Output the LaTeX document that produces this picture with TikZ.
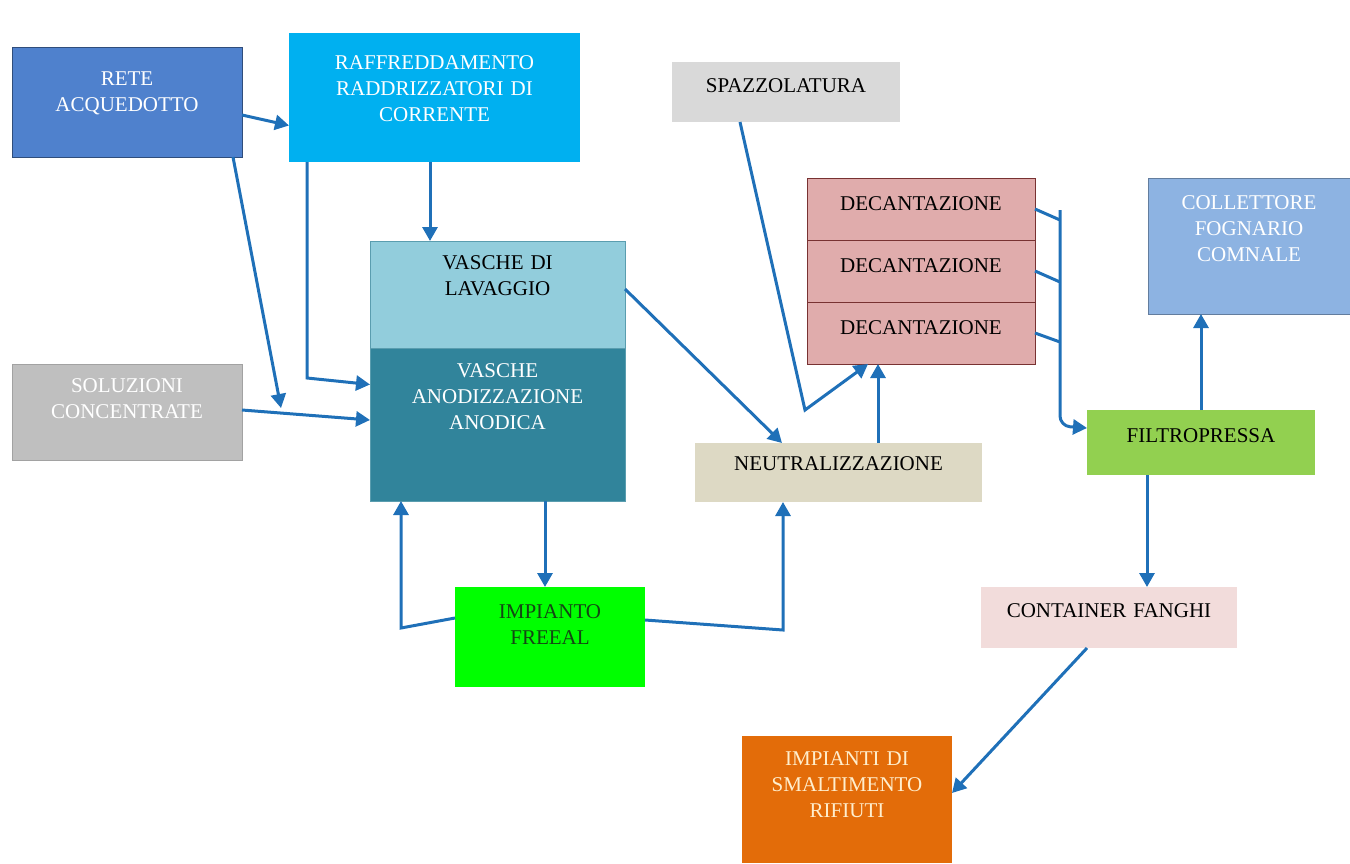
\documentclass[tikz,border=0pt]{standalone}
\usepackage{fontspec}
\setmainfont{Liberation Serif}
\usetikzlibrary{arrows.meta, positioning}

\definecolor{flowblue}{RGB}{31,112,184}
\definecolor{retefill}{RGB}{79,129,205}
\definecolor{raffill}{RGB}{0,176,240}
\definecolor{spazfill}{RGB}{217,217,217}
\definecolor{lavfill}{RGB}{146,205,220}
\definecolor{anodfill}{RGB}{49,132,155}
\definecolor{solfill}{RGB}{191,191,191}
\definecolor{decfill}{RGB}{224,172,172}
\definecolor{decline}{RGB}{120,50,50}
\definecolor{collfill}{RGB}{141,179,226}
\definecolor{neutfill}{RGB}{221,217,196}
\definecolor{filtfill}{RGB}{146,208,80}
\definecolor{freefill}{RGB}{0,255,0}
\definecolor{contfill}{RGB}{242,220,219}
\definecolor{smalfill}{RGB}{227,108,9}

\begin{document}
\begin{tikzpicture}[x=0.5pt, y=-0.5pt, >={Triangle[length=7pt,width=7.5pt]},
    box/.style 2 args={rectangle, anchor=north west, inner sep=0pt, outer sep=0pt, align=center,
        text width=#1, text height=15pt, text depth=#2, font=\fontsize{10.5}{13}\selectfont},
    flow/.style={->, draw=flowblue, line width=1.5pt},
    pipe/.style={draw=flowblue, line width=1.5pt}]

    \useasboundingbox (0,0) rectangle (1350,863);

    \node (rete) [box={115pt}{36pt}, text height=19pt, fill=retefill, draw=retefill!60!black, text=white] at (12,47) {RETE\\ACQUEDOTTO};
    \node (raff) [box={145.5pt}{46.5pt}, text height=18pt, fill=raffill, text=white] at (289,33) {RAFFREDDAMENTO\\RADDRIZZATORI DI\\CORRENTE};
    \node (spaz) [box={114pt}{15pt}, fill=spazfill] at (672,62) {SPAZZOLATURA};
    \node (lav) [box={127.5pt}{39.5pt}, text height=14pt, fill=lavfill, draw=anodfill!80!white, line width=0.4pt] at (370,241) {VASCHE DI\\LAVAGGIO};
    \node (anod) [box={127.5pt}{62pt}, text height=14.5pt, fill=anodfill, draw=anodfill!80!white, line width=0.4pt, text=white, below=0pt of lav] {VASCHE\\ANODIZZAZIONE\\ANODICA};
    \node (sol) [box={115pt}{34pt}, text height=14pt, fill=solfill, draw=solfill!85!black, line width=0.4pt, text=white] at (12,364) {SOLUZIONI\\CONCENTRATE};
    \node (dec1) [box={114pt}{15pt}, text height=16pt, fill=decfill, draw=decline, line width=0.5pt] at (807,178) {DECANTAZIONE};
    \node (dec2) [box={114pt}{15pt}, text height=16pt, fill=decfill, draw=decline, line width=0.5pt, below=0pt of dec1] {DECANTAZIONE};
    \node (dec3) [box={114pt}{15pt}, text height=16pt, fill=decfill, draw=decline, line width=0.5pt, below=0pt of dec2] {DECANTAZIONE};
    \node (coll) [box={101pt}{52.5pt}, text height=15.5pt, fill=collfill, draw=collfill!70!black, line width=0.4pt, text=white] at (1148,178) {COLLETTORE\\FOGNARIO\\COMNALE};
    \node (neut) [box={143.5pt}{16pt}, text height=13.5pt, fill=neutfill] at (695,443) {NEUTRALIZZAZIONE};
    \node (filt) [box={114pt}{16.5pt}, text height=16pt, fill=filtfill] at (1087,410) {FILTROPRESSA};
    \node (free) [box={95pt}{34.5pt}, text height=15.5pt, fill=freefill, text={rgb,255:red,20;green,70;blue,20}] at (455,587) {IMPIANTO\\FREEAL};
    \node (cont) [box={128pt}{15.5pt}, fill=contfill] at (981,587) {CONTAINER FANGHI};
    \node (smal) [box={105pt}{49pt}, text height=14.5pt, fill=smalfill, text={rgb,255:red,255;green,238;blue,205}] at (742,736) {IMPIANTI DI\\SMALTIMENTO\\RIFIUTI};

    \coordinate (reteend) at (281,408);
    \coordinate (raffbend) at (307,378);
    \coordinate (freeleft) at (401,628);
    \coordinate (freeright) at (783,630);
    \coordinate (spazbend) at (805,410);
    \coordinate (colltop) at (1060,210);
    \coordinate (collbot) at (1060,426);

    \draw [flow] ([yshift=-6.5pt]rete.east) -- ([yshift=-14pt]raff.west);
    \draw [flow] ([xshift=53pt]rete.south) -- (reteend);
    \draw [flow] ([xshift=-63.75pt]raff.south) -- (raffbend) -- ([yshift=20pt]anod.west);
    \draw [flow] ([xshift=-2.25pt]raff.south) -- ([xshift=-2.25pt]raff.south |- lav.north);
    \draw [flow] ([yshift=1pt]sol.east) -- ([yshift=2.25pt]anod.west);
    \draw [flow] ([xshift=23.75pt]anod.south) -- ([xshift=23.75pt]anod.south |- free.north);
    \draw [flow] ([yshift=9.5pt]free.west) -- (freeleft) -- (freeleft |- anod.south);
    \draw [flow] ([yshift=8.5pt]free.east) -- (freeright) -- (freeright |- neut.south);
    \draw [flow] ([yshift=2.75pt]lav.east) -- ([xshift=-28.25pt]neut.north);
    \draw [flow] ([xshift=-23pt]spaz.south) -- (spazbend) -- ([xshift=-26.5pt]dec3.south);
    \draw [flow] ([xshift=19.75pt]neut.north) -- ([xshift=19.75pt]neut.north |- dec3.south);

    % decantazione outlets to the collector line
    \foreach \i/\ty in {1/220,2/282,3/342}
        \draw [pipe] (dec\i.east) -- (1060,\ty);
    \draw [flow, rounded corners=5pt] (colltop) -- (collbot) -- ([yshift=7.25pt]filt.west);

    \draw [flow] (filt.north) -- (filt.north |- coll.south);
    \draw [flow] ([xshift=-27pt]filt.south) -- ([xshift=-27pt]filt.south |- cont.north);
    \draw [flow] ([xshift=-11pt]cont.south) -- ([yshift=3.25pt]smal.east);

\end{tikzpicture}
\end{document}
